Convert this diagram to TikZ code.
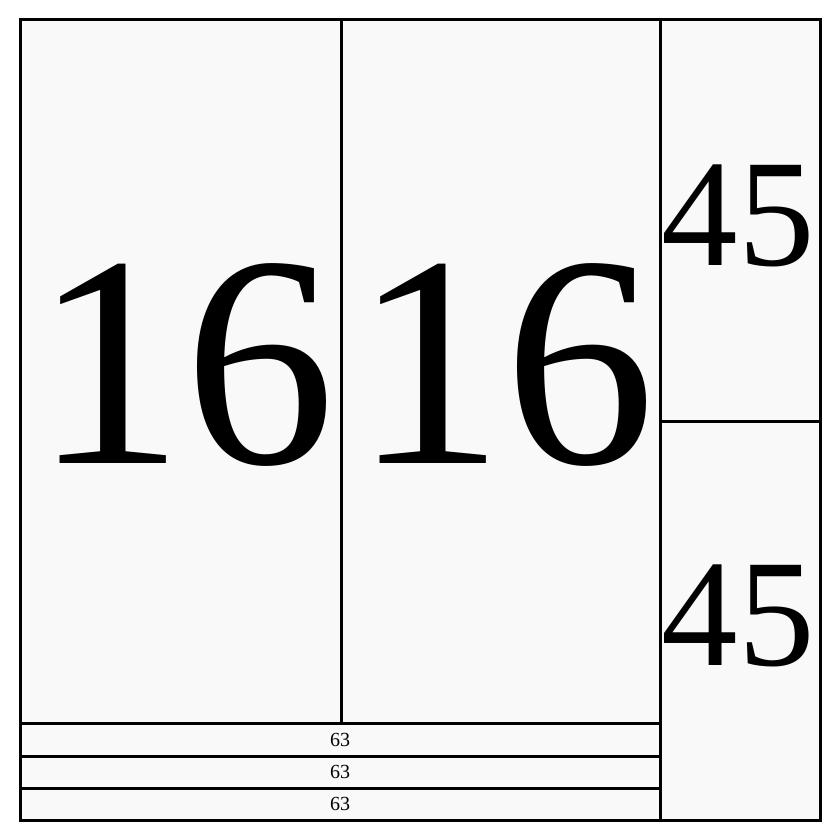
\documentclass[tikz,border=0pt]{standalone}
\usepackage{fontspec}
\setmainfont{Liberation Serif}
\tikzset{
  cell/.style={draw=black, line width=3pt, fill=black!2.5},
  big/.style={font=\fontsize{302}{310}\selectfont, inner sep=0pt},
  mid/.style={font=\fontsize{153}{160}\selectfont, inner sep=0pt},
  small/.style={font=\fontsize{20}{22}\selectfont, inner sep=0pt},
}
\begin{document}
\begin{tikzpicture}[x=1pt,y=-1pt]
\useasboundingbox (0,0) rectangle (840,840);
\draw[cell] (20,20) rectangle (341,723);
\draw[cell] (341,20) rectangle (660,723);
\draw[cell] (660,20) rectangle (820,421);
\draw[cell] (660,421) rectangle (820,820);
\draw[cell] (20,723) rectangle (660,756);
\draw[cell] (20,756) rectangle (660,788);
\draw[cell] (20,788) rectangle (660,820);
\node[big] (a) at (184,365) {16};
\node[big] (b) at (504,365) {16};
\node[mid] (c) at (738,216) {45};
\node[mid] (d) at (738,616) {45};
\node[small] (e) at (340,740) {63};
\node[small] (f) at (340,772) {63};
\node[small] (g) at (340,804) {63};
\end{tikzpicture}
\end{document}
